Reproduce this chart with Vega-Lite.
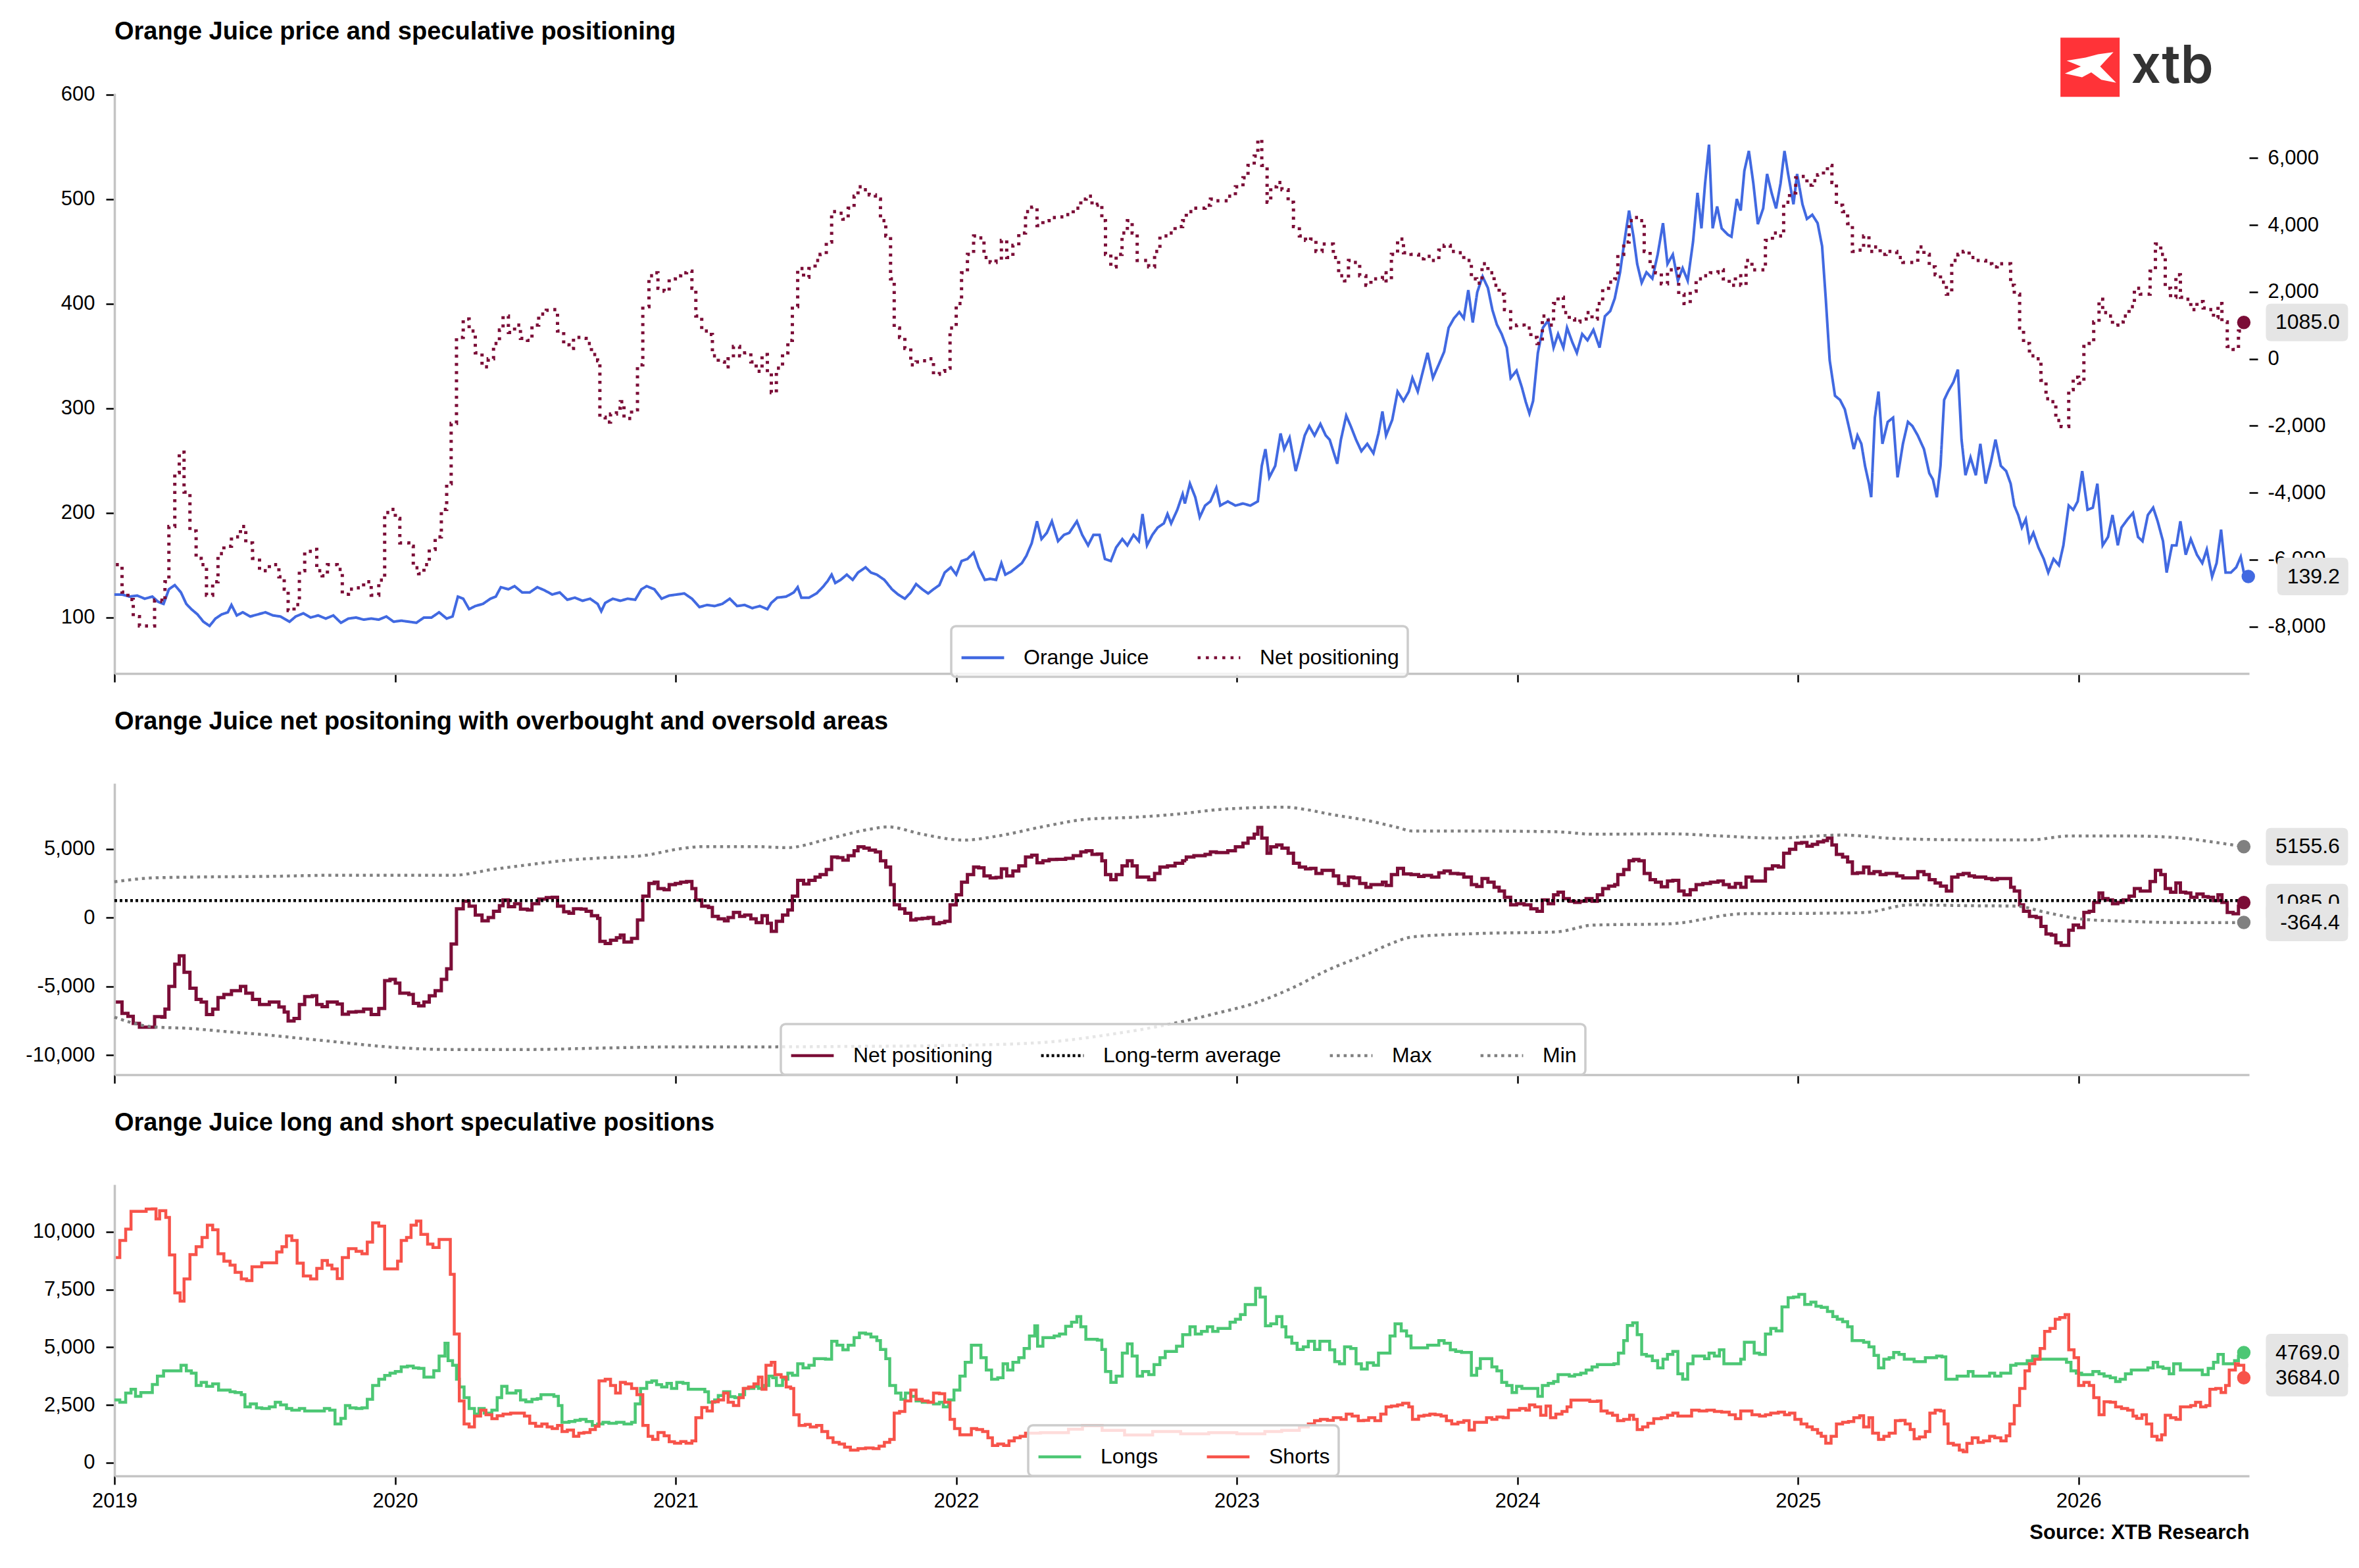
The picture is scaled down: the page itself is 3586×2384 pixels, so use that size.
{
  "$schema": "https://vega.github.io/schema/vega-lite/v6.json",
  "background": "white",
  "padding": {"left": 38, "top": 30, "right": 6, "bottom": 10},
  "config": {
    "font": "Liberation Sans",
    "view": {"stroke": null},
    "title": {"anchor": "start", "frame": "group", "fontSize": 38, "fontWeight": "bold", "color": "#000000", "baseline": "alphabetic", "offset": 74},
    "axis": {"grid": false, "labelFlush": false, "labelOverlap": false, "domainColor": "#c4c4c4", "domainWidth": 3.5, "tickColor": "#000000", "tickWidth": 2.5, "tickSize": 13, "labelFontSize": 31, "labelColor": "#000000", "labelFont": "Liberation Sans", "title": null},
    "legend": {"orient": "none", "direction": "horizontal", "symbolType": "stroke", "symbolSize": 4200, "symbolStrokeWidth": 4.5, "labelFontSize": 32, "labelFont": "Liberation Sans", "labelColor": "#000000", "labelOffset": 27, "columnPadding": 64, "padding": 13, "fillColor": "rgba(255,255,255,0.8)", "strokeColor": "#cccccc", "strokeWidth": 3.5, "cornerRadius": 7, "labelLimit": 0}
  },
  "datasets": {
    "price": [{"t":2019.000,"v":122},{"t":2019.027,"v":122},{"t":2019.054,"v":120},{"t":2019.081,"v":121},{"t":2019.108,"v":118},{"t":2019.135,"v":120},{"t":2019.156,"v":115},{"t":2019.175,"v":113},{"t":2019.194,"v":127},{"t":2019.215,"v":131},{"t":2019.237,"v":124},{"t":2019.256,"v":113},{"t":2019.274,"v":108},{"t":2019.296,"v":103},{"t":2019.317,"v":96},{"t":2019.339,"v":92},{"t":2019.360,"v":99},{"t":2019.382,"v":103},{"t":2019.404,"v":105},{"t":2019.417,"v":112},{"t":2019.436,"v":102},{"t":2019.457,"v":105},{"t":2019.484,"v":101},{"t":2019.511,"v":103},{"t":2019.538,"v":105},{"t":2019.565,"v":102},{"t":2019.592,"v":101},{"t":2019.624,"v":96},{"t":2019.646,"v":101},{"t":2019.673,"v":104},{"t":2019.699,"v":100},{"t":2019.726,"v":102},{"t":2019.753,"v":99},{"t":2019.780,"v":102},{"t":2019.807,"v":95},{"t":2019.834,"v":99},{"t":2019.861,"v":100},{"t":2019.888,"v":98},{"t":2019.915,"v":99},{"t":2019.942,"v":98},{"t":2019.969,"v":101},{"t":2019.995,"v":96},{"t":2020.022,"v":97},{"t":2020.049,"v":96},{"t":2020.076,"v":95},{"t":2020.103,"v":100},{"t":2020.130,"v":100},{"t":2020.157,"v":105},{"t":2020.184,"v":99},{"t":2020.205,"v":101},{"t":2020.224,"v":120},{"t":2020.243,"v":118},{"t":2020.264,"v":108},{"t":2020.286,"v":111},{"t":2020.313,"v":113},{"t":2020.340,"v":118},{"t":2020.359,"v":120},{"t":2020.377,"v":129},{"t":2020.404,"v":127},{"t":2020.426,"v":130},{"t":2020.453,"v":124},{"t":2020.480,"v":124},{"t":2020.507,"v":129},{"t":2020.533,"v":126},{"t":2020.560,"v":122},{"t":2020.587,"v":124},{"t":2020.614,"v":117},{"t":2020.641,"v":119},{"t":2020.668,"v":116},{"t":2020.695,"v":118},{"t":2020.722,"v":113},{"t":2020.735,"v":106},{"t":2020.749,"v":114},{"t":2020.776,"v":118},{"t":2020.803,"v":116},{"t":2020.829,"v":118},{"t":2020.856,"v":117},{"t":2020.878,"v":127},{"t":2020.897,"v":130},{"t":2020.924,"v":127},{"t":2020.950,"v":118},{"t":2020.977,"v":121},{"t":2021.004,"v":122},{"t":2021.031,"v":123},{"t":2021.058,"v":118},{"t":2021.085,"v":110},{"t":2021.112,"v":112},{"t":2021.139,"v":111},{"t":2021.166,"v":113},{"t":2021.193,"v":118},{"t":2021.219,"v":111},{"t":2021.246,"v":112},{"t":2021.273,"v":109},{"t":2021.300,"v":111},{"t":2021.327,"v":108},{"t":2021.341,"v":114},{"t":2021.362,"v":119},{"t":2021.394,"v":120},{"t":2021.421,"v":124},{"t":2021.435,"v":129},{"t":2021.448,"v":119},{"t":2021.475,"v":119},{"t":2021.502,"v":123},{"t":2021.524,"v":129},{"t":2021.542,"v":135},{"t":2021.556,"v":141},{"t":2021.569,"v":133},{"t":2021.588,"v":136},{"t":2021.610,"v":141},{"t":2021.631,"v":136},{"t":2021.650,"v":143},{"t":2021.677,"v":148},{"t":2021.696,"v":143},{"t":2021.717,"v":141},{"t":2021.744,"v":136},{"t":2021.771,"v":127},{"t":2021.793,"v":122},{"t":2021.817,"v":118},{"t":2021.838,"v":124},{"t":2021.857,"v":132},{"t":2021.879,"v":127},{"t":2021.900,"v":123},{"t":2021.919,"v":127},{"t":2021.940,"v":131},{"t":2021.959,"v":143},{"t":2021.981,"v":148},{"t":2022.000,"v":141},{"t":2022.019,"v":154},{"t":2022.040,"v":156},{"t":2022.062,"v":162},{"t":2022.080,"v":148},{"t":2022.102,"v":136},{"t":2022.121,"v":137},{"t":2022.142,"v":136},{"t":2022.161,"v":152},{"t":2022.175,"v":141},{"t":2022.196,"v":144},{"t":2022.215,"v":148},{"t":2022.234,"v":152},{"t":2022.250,"v":159},{"t":2022.269,"v":171},{"t":2022.288,"v":192},{"t":2022.304,"v":175},{"t":2022.323,"v":181},{"t":2022.341,"v":192},{"t":2022.363,"v":173},{"t":2022.384,"v":179},{"t":2022.403,"v":181},{"t":2022.430,"v":192},{"t":2022.449,"v":179},{"t":2022.470,"v":169},{"t":2022.489,"v":179},{"t":2022.511,"v":179},{"t":2022.530,"v":156},{"t":2022.551,"v":154},{"t":2022.570,"v":167},{"t":2022.592,"v":175},{"t":2022.610,"v":169},{"t":2022.632,"v":179},{"t":2022.651,"v":173},{"t":2022.664,"v":199},{"t":2022.680,"v":169},{"t":2022.699,"v":179},{"t":2022.718,"v":186},{"t":2022.740,"v":190},{"t":2022.753,"v":199},{"t":2022.766,"v":190},{"t":2022.788,"v":203},{"t":2022.807,"v":218},{"t":2022.815,"v":209},{"t":2022.833,"v":228},{"t":2022.852,"v":215},{"t":2022.868,"v":196},{"t":2022.887,"v":207},{"t":2022.906,"v":211},{"t":2022.927,"v":224},{"t":2022.941,"v":207},{"t":2022.968,"v":211},{"t":2022.995,"v":207},{"t":2023.022,"v":209},{"t":2023.048,"v":207},{"t":2023.075,"v":211},{"t":2023.089,"v":245},{"t":2023.102,"v":261},{"t":2023.116,"v":234},{"t":2023.137,"v":245},{"t":2023.156,"v":276},{"t":2023.169,"v":261},{"t":2023.188,"v":272},{"t":2023.210,"v":240},{"t":2023.223,"v":253},{"t":2023.242,"v":274},{"t":2023.258,"v":283},{"t":2023.277,"v":274},{"t":2023.298,"v":285},{"t":2023.317,"v":274},{"t":2023.331,"v":270},{"t":2023.358,"v":247},{"t":2023.371,"v":270},{"t":2023.390,"v":293},{"t":2023.406,"v":283},{"t":2023.425,"v":270},{"t":2023.444,"v":259},{"t":2023.465,"v":266},{"t":2023.487,"v":257},{"t":2023.505,"v":276},{"t":2023.519,"v":297},{"t":2023.532,"v":274},{"t":2023.554,"v":289},{"t":2023.573,"v":316},{"t":2023.594,"v":307},{"t":2023.613,"v":316},{"t":2023.626,"v":329},{"t":2023.645,"v":316},{"t":2023.661,"v":333},{"t":2023.680,"v":353},{"t":2023.699,"v":329},{"t":2023.720,"v":342},{"t":2023.739,"v":354},{"t":2023.755,"v":377},{"t":2023.774,"v":386},{"t":2023.793,"v":392},{"t":2023.809,"v":386},{"t":2023.825,"v":413},{"t":2023.841,"v":382},{"t":2023.857,"v":411},{"t":2023.876,"v":426},{"t":2023.895,"v":415},{"t":2023.911,"v":394},{"t":2023.927,"v":380},{"t":2023.944,"v":371},{"t":2023.962,"v":358},{"t":2023.976,"v":329},{"t":2023.997,"v":336},{"t":2024.016,"v":320},{"t":2024.030,"v":306},{"t":2024.043,"v":295},{"t":2024.056,"v":307},{"t":2024.073,"v":353},{"t":2024.091,"v":377},{"t":2024.110,"v":384},{"t":2024.129,"v":358},{"t":2024.145,"v":371},{"t":2024.164,"v":358},{"t":2024.177,"v":377},{"t":2024.196,"v":363},{"t":2024.212,"v":353},{"t":2024.231,"v":371},{"t":2024.250,"v":365},{"t":2024.271,"v":375},{"t":2024.293,"v":358},{"t":2024.312,"v":388},{"t":2024.331,"v":393},{"t":2024.347,"v":405},{"t":2024.366,"v":430},{"t":2024.379,"v":455},{"t":2024.398,"v":489},{"t":2024.414,"v":464},{"t":2024.427,"v":438},{"t":2024.443,"v":420},{"t":2024.460,"v":430},{"t":2024.481,"v":424},{"t":2024.500,"v":447},{"t":2024.519,"v":477},{"t":2024.535,"v":438},{"t":2024.554,"v":447},{"t":2024.572,"v":422},{"t":2024.589,"v":434},{"t":2024.607,"v":422},{"t":2024.626,"v":459},{"t":2024.642,"v":506},{"t":2024.656,"v":472},{"t":2024.669,"v":515},{"t":2024.683,"v":552},{"t":2024.696,"v":472},{"t":2024.712,"v":493},{"t":2024.728,"v":472},{"t":2024.750,"v":466},{"t":2024.763,"v":464},{"t":2024.782,"v":500},{"t":2024.796,"v":489},{"t":2024.809,"v":527},{"t":2024.825,"v":546},{"t":2024.841,"v":515},{"t":2024.857,"v":476},{"t":2024.876,"v":491},{"t":2024.890,"v":524},{"t":2024.906,"v":506},{"t":2024.922,"v":491},{"t":2024.938,"v":515},{"t":2024.952,"v":546},{"t":2024.965,"v":524},{"t":2024.984,"v":495},{"t":2024.997,"v":524},{"t":2025.016,"v":495},{"t":2025.032,"v":481},{"t":2025.051,"v":485},{"t":2025.070,"v":477},{"t":2025.086,"v":455},{"t":2025.099,"v":405},{"t":2025.113,"v":346},{"t":2025.132,"v":312},{"t":2025.150,"v":308},{"t":2025.167,"v":299},{"t":2025.185,"v":278},{"t":2025.199,"v":261},{"t":2025.212,"v":274},{"t":2025.226,"v":266},{"t":2025.239,"v":245},{"t":2025.253,"v":228},{"t":2025.261,"v":215},{"t":2025.274,"v":291},{"t":2025.287,"v":316},{"t":2025.301,"v":266},{"t":2025.320,"v":287},{"t":2025.339,"v":291},{"t":2025.355,"v":234},{"t":2025.374,"v":266},{"t":2025.392,"v":287},{"t":2025.408,"v":283},{"t":2025.427,"v":274},{"t":2025.449,"v":261},{"t":2025.468,"v":238},{"t":2025.481,"v":232},{"t":2025.495,"v":215},{"t":2025.508,"v":245},{"t":2025.521,"v":308},{"t":2025.535,"v":316},{"t":2025.554,"v":325},{"t":2025.570,"v":337},{"t":2025.583,"v":270},{"t":2025.597,"v":236},{"t":2025.615,"v":253},{"t":2025.634,"v":236},{"t":2025.650,"v":266},{"t":2025.669,"v":228},{"t":2025.688,"v":249},{"t":2025.704,"v":270},{"t":2025.723,"v":245},{"t":2025.742,"v":240},{"t":2025.758,"v":228},{"t":2025.771,"v":207},{"t":2025.785,"v":198},{"t":2025.798,"v":186},{"t":2025.812,"v":194},{"t":2025.825,"v":173},{"t":2025.839,"v":181},{"t":2025.857,"v":167},{"t":2025.876,"v":156},{"t":2025.892,"v":143},{"t":2025.911,"v":156},{"t":2025.930,"v":150},{"t":2025.946,"v":169},{"t":2025.965,"v":207},{"t":2025.981,"v":203},{"t":2025.997,"v":211},{"t":2026.013,"v":240},{"t":2026.032,"v":203},{"t":2026.051,"v":205},{"t":2026.067,"v":228},{"t":2026.086,"v":169},{"t":2026.105,"v":177},{"t":2026.121,"v":198},{"t":2026.140,"v":169},{"t":2026.153,"v":186},{"t":2026.175,"v":194},{"t":2026.194,"v":200},{"t":2026.212,"v":177},{"t":2026.228,"v":173},{"t":2026.247,"v":198},{"t":2026.266,"v":205},{"t":2026.282,"v":192},{"t":2026.301,"v":173},{"t":2026.314,"v":143},{"t":2026.333,"v":169},{"t":2026.349,"v":169},{"t":2026.363,"v":192},{"t":2026.382,"v":160},{"t":2026.400,"v":175},{"t":2026.422,"v":160},{"t":2026.441,"v":152},{"t":2026.457,"v":165},{"t":2026.476,"v":139},{"t":2026.492,"v":152},{"t":2026.508,"v":184},{"t":2026.524,"v":143},{"t":2026.543,"v":143},{"t":2026.562,"v":148},{"t":2026.578,"v":158},{"t":2026.589,"v":143},{"t":2026.605,"v":139.2}],
    "net": [{"t":2019.005,"v":-6150},{"t":2019.027,"v":-6970},{"t":2019.048,"v":-7190},{"t":2019.067,"v":-7700},{"t":2019.089,"v":-7980},{"t":2019.143,"v":-7210},{"t":2019.169,"v":-7250},{"t":2019.180,"v":-6660},{"t":2019.194,"v":-5010},{"t":2019.215,"v":-3400},{"t":2019.231,"v":-2790},{"t":2019.248,"v":-3980},{"t":2019.269,"v":-5140},{"t":2019.291,"v":-5960},{"t":2019.309,"v":-6150},{"t":2019.328,"v":-7060},{"t":2019.350,"v":-6660},{"t":2019.369,"v":-5820},{"t":2019.390,"v":-5600},{"t":2019.417,"v":-5320},{"t":2019.449,"v":-5010},{"t":2019.468,"v":-5500},{"t":2019.492,"v":-5960},{"t":2019.517,"v":-6330},{"t":2019.552,"v":-6150},{"t":2019.586,"v":-6510},{"t":2019.605,"v":-6880},{"t":2019.619,"v":-7520},{"t":2019.640,"v":-7340},{"t":2019.659,"v":-6330},{"t":2019.678,"v":-5750},{"t":2019.705,"v":-5690},{"t":2019.721,"v":-6330},{"t":2019.740,"v":-6480},{"t":2019.759,"v":-6150},{"t":2019.794,"v":-6290},{"t":2019.812,"v":-7030},{"t":2019.834,"v":-6880},{"t":2019.861,"v":-6840},{"t":2019.888,"v":-6660},{"t":2019.915,"v":-7060},{"t":2019.942,"v":-6610},{"t":2019.963,"v":-4590},{"t":2019.982,"v":-4500},{"t":2020.001,"v":-4770},{"t":2020.017,"v":-5500},{"t":2020.049,"v":-5600},{"t":2020.065,"v":-6240},{"t":2020.084,"v":-6420},{"t":2020.103,"v":-6150},{"t":2020.122,"v":-5690},{"t":2020.143,"v":-5320},{"t":2020.165,"v":-4500},{"t":2020.184,"v":-3730},{"t":2020.200,"v":-1930},{"t":2020.219,"v":640},{"t":2020.243,"v":1190},{"t":2020.264,"v":830},{"t":2020.286,"v":180},{"t":2020.310,"v":-240},{"t":2020.332,"v":0},{"t":2020.351,"v":460},{"t":2020.372,"v":860},{"t":2020.385,"v":1280},{"t":2020.404,"v":790},{"t":2020.426,"v":1010},{"t":2020.447,"v":610},{"t":2020.472,"v":550},{"t":2020.488,"v":1010},{"t":2020.512,"v":1340},{"t":2020.539,"v":1450},{"t":2020.560,"v":1470},{"t":2020.579,"v":830},{"t":2020.601,"v":420},{"t":2020.620,"v":310},{"t":2020.636,"v":640},{"t":2020.663,"v":610},{"t":2020.681,"v":460},{"t":2020.700,"v":130},{"t":2020.722,"v":-55},{"t":2020.730,"v":-1740},{"t":2020.749,"v":-1890},{"t":2020.768,"v":-1650},{"t":2020.789,"v":-1470},{"t":2020.803,"v":-1280},{"t":2020.816,"v":-1780},{"t":2020.843,"v":-1520},{"t":2020.864,"v":-180},{"t":2020.883,"v":1560},{"t":2020.905,"v":2480},{"t":2020.924,"v":2570},{"t":2020.937,"v":2110},{"t":2020.959,"v":2020},{"t":2020.977,"v":2390},{"t":2020.999,"v":2480},{"t":2021.018,"v":2570},{"t":2021.039,"v":2620},{"t":2021.058,"v":2110},{"t":2021.072,"v":1280},{"t":2021.093,"v":830},{"t":2021.117,"v":730},{"t":2021.131,"v":90},{"t":2021.152,"v":-90},{"t":2021.174,"v":-240},{"t":2021.187,"v":0},{"t":2021.206,"v":370},{"t":2021.228,"v":90},{"t":2021.246,"v":180},{"t":2021.268,"v":-90},{"t":2021.287,"v":-370},{"t":2021.308,"v":130},{"t":2021.327,"v":-420},{"t":2021.341,"v":-1010},{"t":2021.359,"v":-280},{"t":2021.381,"v":180},{"t":2021.400,"v":550},{"t":2021.416,"v":1560},{"t":2021.435,"v":2700},{"t":2021.456,"v":2440},{"t":2021.475,"v":2700},{"t":2021.497,"v":2940},{"t":2021.515,"v":3120},{"t":2021.537,"v":3490},{"t":2021.556,"v":4400},{"t":2021.577,"v":4350},{"t":2021.596,"v":4170},{"t":2021.615,"v":4500},{"t":2021.636,"v":4860},{"t":2021.650,"v":5140},{"t":2021.671,"v":5050},{"t":2021.690,"v":4900},{"t":2021.712,"v":4770},{"t":2021.730,"v":4130},{"t":2021.749,"v":3670},{"t":2021.766,"v":2390},{"t":2021.779,"v":920},{"t":2021.798,"v":640},{"t":2021.817,"v":310},{"t":2021.838,"v":-180},{"t":2021.857,"v":-90},{"t":2021.879,"v":-55},{"t":2021.900,"v":0},{"t":2021.919,"v":-460},{"t":2021.940,"v":-370},{"t":2021.959,"v":-280},{"t":2021.978,"v":920},{"t":2022.000,"v":1650},{"t":2022.019,"v":2570},{"t":2022.040,"v":3120},{"t":2022.062,"v":3670},{"t":2022.080,"v":3610},{"t":2022.099,"v":3030},{"t":2022.121,"v":2880},{"t":2022.142,"v":2920},{"t":2022.161,"v":3540},{"t":2022.180,"v":3030},{"t":2022.202,"v":3390},{"t":2022.223,"v":3760},{"t":2022.247,"v":4400},{"t":2022.269,"v":4530},{"t":2022.288,"v":3980},{"t":2022.309,"v":4130},{"t":2022.331,"v":4220},{"t":2022.358,"v":4240},{"t":2022.390,"v":4310},{"t":2022.417,"v":4500},{"t":2022.444,"v":4770},{"t":2022.463,"v":4860},{"t":2022.484,"v":4590},{"t":2022.503,"v":4620},{"t":2022.519,"v":4130},{"t":2022.532,"v":3120},{"t":2022.551,"v":2750},{"t":2022.570,"v":3120},{"t":2022.591,"v":3760},{"t":2022.610,"v":4130},{"t":2022.627,"v":3760},{"t":2022.645,"v":2940},{"t":2022.686,"v":2750},{"t":2022.707,"v":3210},{"t":2022.726,"v":3670},{"t":2022.753,"v":3760},{"t":2022.780,"v":3950},{"t":2022.807,"v":4130},{"t":2022.820,"v":4400},{"t":2022.847,"v":4500},{"t":2022.887,"v":4590},{"t":2022.906,"v":4770},{"t":2022.927,"v":4720},{"t":2022.968,"v":4860},{"t":2022.995,"v":5140},{"t":2023.022,"v":5410},{"t":2023.040,"v":5780},{"t":2023.062,"v":6060},{"t":2023.075,"v":6550},{"t":2023.089,"v":5780},{"t":2023.108,"v":4680},{"t":2023.121,"v":5140},{"t":2023.142,"v":5270},{"t":2023.161,"v":5050},{"t":2023.183,"v":4680},{"t":2023.202,"v":3950},{"t":2023.223,"v":3670},{"t":2023.245,"v":3540},{"t":2023.263,"v":3580},{"t":2023.282,"v":3210},{"t":2023.304,"v":3430},{"t":2023.344,"v":3030},{"t":2023.363,"v":2480},{"t":2023.384,"v":2330},{"t":2023.398,"v":2940},{"t":2023.417,"v":2880},{"t":2023.438,"v":2480},{"t":2023.460,"v":2200},{"t":2023.478,"v":2390},{"t":2023.519,"v":2570},{"t":2023.532,"v":2330},{"t":2023.551,"v":3120},{"t":2023.573,"v":3580},{"t":2023.594,"v":3170},{"t":2023.621,"v":3120},{"t":2023.648,"v":2990},{"t":2023.667,"v":3060},{"t":2023.694,"v":2940},{"t":2023.720,"v":3250},{"t":2023.739,"v":3390},{"t":2023.761,"v":3210},{"t":2023.788,"v":3170},{"t":2023.809,"v":2940},{"t":2023.836,"v":2390},{"t":2023.855,"v":2260},{"t":2023.874,"v":2840},{"t":2023.895,"v":2570},{"t":2023.917,"v":2200},{"t":2023.935,"v":1930},{"t":2023.954,"v":1470},{"t":2023.976,"v":920},{"t":2023.997,"v":1010},{"t":2024.024,"v":920},{"t":2024.048,"v":640},{"t":2024.070,"v":460},{"t":2024.089,"v":1280},{"t":2024.110,"v":1010},{"t":2024.129,"v":1650},{"t":2024.145,"v":1840},{"t":2024.164,"v":1380},{"t":2024.185,"v":1190},{"t":2024.204,"v":1100},{"t":2024.223,"v":1190},{"t":2024.245,"v":1380},{"t":2024.266,"v":1190},{"t":2024.285,"v":1650},{"t":2024.304,"v":2110},{"t":2024.325,"v":2290},{"t":2024.347,"v":2390},{"t":2024.358,"v":3120},{"t":2024.379,"v":3490},{"t":2024.398,"v":4130},{"t":2024.414,"v":4220},{"t":2024.433,"v":4130},{"t":2024.452,"v":3210},{"t":2024.473,"v":2750},{"t":2024.492,"v":2570},{"t":2024.513,"v":2240},{"t":2024.535,"v":2660},{"t":2024.554,"v":2700},{"t":2024.575,"v":1930},{"t":2024.594,"v":1650},{"t":2024.616,"v":2020},{"t":2024.637,"v":2390},{"t":2024.661,"v":2480},{"t":2024.688,"v":2570},{"t":2024.715,"v":2660},{"t":2024.734,"v":2390},{"t":2024.755,"v":2200},{"t":2024.777,"v":2480},{"t":2024.796,"v":2200},{"t":2024.815,"v":2940},{"t":2024.836,"v":2660},{"t":2024.884,"v":3540},{"t":2024.909,"v":3760},{"t":2024.930,"v":3670},{"t":2024.949,"v":4680},{"t":2024.970,"v":4960},{"t":2024.992,"v":5410},{"t":2025.013,"v":5450},{"t":2025.032,"v":5190},{"t":2025.051,"v":5320},{"t":2025.070,"v":5500},{"t":2025.091,"v":5600},{"t":2025.105,"v":5780},{"t":2025.121,"v":5270},{"t":2025.137,"v":4590},{"t":2025.159,"v":4400},{"t":2025.177,"v":4040},{"t":2025.194,"v":3210},{"t":2025.212,"v":3250},{"t":2025.234,"v":3670},{"t":2025.253,"v":3210},{"t":2025.271,"v":3340},{"t":2025.293,"v":3120},{"t":2025.314,"v":3210},{"t":2025.352,"v":3030},{"t":2025.374,"v":2880},{"t":2025.427,"v":3340},{"t":2025.449,"v":3120},{"t":2025.468,"v":2750},{"t":2025.489,"v":2510},{"t":2025.508,"v":2290},{"t":2025.529,"v":1930},{"t":2025.548,"v":2940},{"t":2025.570,"v":3120},{"t":2025.589,"v":3210},{"t":2025.610,"v":3030},{"t":2025.629,"v":2940},{"t":2025.669,"v":2840},{"t":2025.691,"v":2750},{"t":2025.710,"v":2840},{"t":2025.758,"v":2200},{"t":2025.771,"v":1930},{"t":2025.790,"v":920},{"t":2025.804,"v":460},{"t":2025.825,"v":90},{"t":2025.849,"v":0},{"t":2025.866,"v":-640},{"t":2025.884,"v":-1190},{"t":2025.903,"v":-1280},{"t":2025.919,"v":-1840},{"t":2025.938,"v":-2020},{"t":2025.965,"v":-920},{"t":2025.981,"v":-550},{"t":2026.000,"v":-730},{"t":2026.019,"v":370},{"t":2026.038,"v":460},{"t":2026.054,"v":1100},{"t":2026.073,"v":1780},{"t":2026.086,"v":1380},{"t":2026.105,"v":1280},{"t":2026.121,"v":1010},{"t":2026.140,"v":1100},{"t":2026.159,"v":1280},{"t":2026.180,"v":1560},{"t":2026.199,"v":2110},{"t":2026.220,"v":1930},{"t":2026.255,"v":2620},{"t":2026.274,"v":3430},{"t":2026.293,"v":3120},{"t":2026.309,"v":2110},{"t":2026.328,"v":1840},{"t":2026.347,"v":2510},{"t":2026.363,"v":1840},{"t":2026.382,"v":1780},{"t":2026.400,"v":1470},{"t":2026.422,"v":1710},{"t":2026.444,"v":1520},{"t":2026.462,"v":1470},{"t":2026.481,"v":1230},{"t":2026.497,"v":1650},{"t":2026.511,"v":1100},{"t":2026.530,"v":370},{"t":2026.551,"v":280},{"t":2026.570,"v":830},{"t":2026.589,"v":1085.0}],
    "avg": [{"t":2019.0,"v":1230},{"t":2026.589,"v":1230}],
    "max": [{"t":2019.000,"v":2600},{"t":2019.135,"v":2880},{"t":2019.269,"v":2940},{"t":2019.538,"v":2990},{"t":2019.807,"v":3080},{"t":2020.211,"v":3080},{"t":2020.345,"v":3490},{"t":2020.480,"v":3850},{"t":2020.614,"v":4170},{"t":2020.749,"v":4350},{"t":2020.883,"v":4500},{"t":2021.018,"v":5010},{"t":2021.098,"v":5160},{"t":2021.287,"v":5160},{"t":2021.394,"v":5080},{"t":2021.556,"v":5780},{"t":2021.690,"v":6420},{"t":2021.758,"v":6590},{"t":2021.879,"v":6060},{"t":2022.027,"v":5630},{"t":2022.148,"v":5930},{"t":2022.309,"v":6610},{"t":2022.470,"v":7160},{"t":2022.632,"v":7290},{"t":2022.807,"v":7560},{"t":2022.927,"v":7840},{"t":2023.062,"v":7990},{"t":2023.169,"v":8030},{"t":2023.250,"v":7840},{"t":2023.331,"v":7520},{"t":2023.465,"v":7060},{"t":2023.573,"v":6550},{"t":2023.626,"v":6290},{"t":2023.868,"v":6290},{"t":2024.137,"v":6240},{"t":2024.271,"v":6060},{"t":2024.540,"v":6090},{"t":2024.728,"v":5930},{"t":2024.917,"v":5780},{"t":2025.159,"v":6000},{"t":2025.347,"v":5740},{"t":2025.616,"v":5650},{"t":2025.831,"v":5650},{"t":2025.965,"v":5930},{"t":2026.180,"v":5930},{"t":2026.368,"v":5780},{"t":2026.476,"v":5500},{"t":2026.589,"v":5155.6}],
    "min": [{"t":2019.000,"v":-7250},{"t":2019.135,"v":-7950},{"t":2019.269,"v":-8070},{"t":2019.404,"v":-8310},{"t":2019.538,"v":-8530},{"t":2019.673,"v":-8810},{"t":2019.807,"v":-9080},{"t":2019.942,"v":-9360},{"t":2020.076,"v":-9540},{"t":2020.211,"v":-9600},{"t":2020.480,"v":-9600},{"t":2020.749,"v":-9490},{"t":2021.018,"v":-9410},{"t":2021.287,"v":-9410},{"t":2021.600,"v":-9380},{"t":2022.000,"v":-9300},{"t":2022.300,"v":-9100},{"t":2022.550,"v":-8500},{"t":2022.793,"v":-7620},{"t":2022.927,"v":-6970},{"t":2023.062,"v":-6240},{"t":2023.196,"v":-5140},{"t":2023.331,"v":-3760},{"t":2023.465,"v":-2660},{"t":2023.546,"v":-1930},{"t":2023.626,"v":-1410},{"t":2023.868,"v":-1160},{"t":2024.137,"v":-1050},{"t":2024.271,"v":-550},{"t":2024.540,"v":-460},{"t":2024.809,"v":280},{"t":2025.078,"v":310},{"t":2025.239,"v":370},{"t":2025.400,"v":920},{"t":2025.616,"v":860},{"t":2025.777,"v":830},{"t":2025.884,"v":370},{"t":2026.019,"v":-130},{"t":2026.180,"v":-280},{"t":2026.368,"v":-370},{"t":2026.589,"v":-364.4}],
    "longs": [{"t":2019.000,"v":2720},{"t":2019.019,"v":2620},{"t":2019.040,"v":3020},{"t":2019.059,"v":3180},{"t":2019.075,"v":2880},{"t":2019.094,"v":3040},{"t":2019.135,"v":3390},{"t":2019.153,"v":3750},{"t":2019.175,"v":3980},{"t":2019.237,"v":4220},{"t":2019.256,"v":3980},{"t":2019.274,"v":3880},{"t":2019.291,"v":3350},{"t":2019.309,"v":3480},{"t":2019.328,"v":3310},{"t":2019.350,"v":3420},{"t":2019.371,"v":3150},{"t":2019.412,"v":3080},{"t":2019.430,"v":3040},{"t":2019.452,"v":2950},{"t":2019.465,"v":2420},{"t":2019.484,"v":2550},{"t":2019.506,"v":2380},{"t":2019.525,"v":2350},{"t":2019.552,"v":2420},{"t":2019.573,"v":2620},{"t":2019.592,"v":2510},{"t":2019.613,"v":2350},{"t":2019.632,"v":2280},{"t":2019.659,"v":2350},{"t":2019.678,"v":2240},{"t":2019.748,"v":2350},{"t":2019.767,"v":2280},{"t":2019.786,"v":1680},{"t":2019.807,"v":1920},{"t":2019.823,"v":2480},{"t":2019.839,"v":2380},{"t":2019.861,"v":2350},{"t":2019.882,"v":2380},{"t":2019.901,"v":2750},{"t":2019.920,"v":3350},{"t":2019.942,"v":3620},{"t":2019.963,"v":3780},{"t":2019.982,"v":3880},{"t":2020.001,"v":3950},{"t":2020.022,"v":4150},{"t":2020.044,"v":4190},{"t":2020.065,"v":4110},{"t":2020.084,"v":4090},{"t":2020.103,"v":3710},{"t":2020.138,"v":3990},{"t":2020.157,"v":4620},{"t":2020.178,"v":5180},{"t":2020.189,"v":4420},{"t":2020.205,"v":4220},{"t":2020.219,"v":3620},{"t":2020.229,"v":3280},{"t":2020.246,"v":2820},{"t":2020.264,"v":2350},{"t":2020.283,"v":2110},{"t":2020.299,"v":2350},{"t":2020.318,"v":2150},{"t":2020.345,"v":2280},{"t":2020.364,"v":2820},{"t":2020.380,"v":3310},{"t":2020.399,"v":3020},{"t":2020.431,"v":3120},{"t":2020.447,"v":2720},{"t":2020.466,"v":2640},{"t":2020.488,"v":2750},{"t":2020.507,"v":2780},{"t":2020.520,"v":2950},{"t":2020.566,"v":2880},{"t":2020.582,"v":2480},{"t":2020.595,"v":1750},{"t":2020.620,"v":1790},{"t":2020.641,"v":1840},{"t":2020.660,"v":1880},{"t":2020.681,"v":1790},{"t":2020.703,"v":1620},{"t":2020.722,"v":1680},{"t":2020.741,"v":1750},{"t":2020.762,"v":1710},{"t":2020.789,"v":1750},{"t":2020.816,"v":1680},{"t":2020.843,"v":1750},{"t":2020.856,"v":2550},{"t":2020.875,"v":3220},{"t":2020.897,"v":3480},{"t":2020.915,"v":3550},{"t":2020.932,"v":3380},{"t":2020.950,"v":3280},{"t":2020.969,"v":3440},{"t":2020.985,"v":3220},{"t":2021.004,"v":3480},{"t":2021.026,"v":3440},{"t":2021.045,"v":3180},{"t":2021.104,"v":3080},{"t":2021.117,"v":2620},{"t":2021.139,"v":2720},{"t":2021.152,"v":2910},{"t":2021.171,"v":3080},{"t":2021.193,"v":2860},{"t":2021.211,"v":2820},{"t":2021.228,"v":2950},{"t":2021.246,"v":3220},{"t":2021.279,"v":3310},{"t":2021.295,"v":3220},{"t":2021.314,"v":3350},{"t":2021.332,"v":3750},{"t":2021.346,"v":3680},{"t":2021.359,"v":3350},{"t":2021.381,"v":3620},{"t":2021.400,"v":3880},{"t":2021.416,"v":3790},{"t":2021.435,"v":4290},{"t":2021.454,"v":4110},{"t":2021.475,"v":4220},{"t":2021.494,"v":4510},{"t":2021.534,"v":4490},{"t":2021.556,"v":5260},{"t":2021.575,"v":5090},{"t":2021.596,"v":4890},{"t":2021.615,"v":5090},{"t":2021.636,"v":5420},{"t":2021.655,"v":5620},{"t":2021.677,"v":5580},{"t":2021.696,"v":5450},{"t":2021.717,"v":5290},{"t":2021.730,"v":4910},{"t":2021.749,"v":4510},{"t":2021.763,"v":3350},{"t":2021.784,"v":3020},{"t":2021.803,"v":2750},{"t":2021.819,"v":3020},{"t":2021.838,"v":2880},{"t":2021.857,"v":2680},{"t":2021.879,"v":2620},{"t":2021.919,"v":2550},{"t":2021.940,"v":2620},{"t":2021.954,"v":2420},{"t":2021.973,"v":2720},{"t":2021.992,"v":3150},{"t":2022.013,"v":3750},{"t":2022.032,"v":4350},{"t":2022.054,"v":5090},{"t":2022.088,"v":4550},{"t":2022.107,"v":4020},{"t":2022.126,"v":3620},{"t":2022.148,"v":3680},{"t":2022.167,"v":4290},{"t":2022.183,"v":4020},{"t":2022.202,"v":4350},{"t":2022.223,"v":4550},{"t":2022.242,"v":4950},{"t":2022.261,"v":5490},{"t":2022.280,"v":5930},{"t":2022.290,"v":5050},{"t":2022.309,"v":5420},{"t":2022.349,"v":5490},{"t":2022.368,"v":5580},{"t":2022.390,"v":5910},{"t":2022.411,"v":6090},{"t":2022.430,"v":6330},{"t":2022.444,"v":5890},{"t":2022.462,"v":5350},{"t":2022.503,"v":5310},{"t":2022.519,"v":4910},{"t":2022.532,"v":3950},{"t":2022.551,"v":3480},{"t":2022.570,"v":3750},{"t":2022.592,"v":4750},{"t":2022.610,"v":5150},{"t":2022.627,"v":4620},{"t":2022.645,"v":3750},{"t":2022.664,"v":3950},{"t":2022.686,"v":3820},{"t":2022.705,"v":4250},{"t":2022.726,"v":4550},{"t":2022.745,"v":4820},{"t":2022.785,"v":5050},{"t":2022.807,"v":5550},{"t":2022.833,"v":5890},{"t":2022.852,"v":5580},{"t":2022.874,"v":5690},{"t":2022.895,"v":5890},{"t":2022.914,"v":5690},{"t":2022.933,"v":5820},{"t":2022.976,"v":6090},{"t":2022.995,"v":6220},{"t":2023.013,"v":6420},{"t":2023.030,"v":6850},{"t":2023.067,"v":7560},{"t":2023.083,"v":7180},{"t":2023.102,"v":5930},{"t":2023.121,"v":6020},{"t":2023.142,"v":6330},{"t":2023.161,"v":5890},{"t":2023.175,"v":5450},{"t":2023.196,"v":5180},{"t":2023.215,"v":4910},{"t":2023.237,"v":5020},{"t":2023.255,"v":5260},{"t":2023.277,"v":4910},{"t":2023.296,"v":5260},{"t":2023.331,"v":4890},{"t":2023.349,"v":4380},{"t":2023.366,"v":4290},{"t":2023.384,"v":5020},{"t":2023.406,"v":4950},{"t":2023.425,"v":4290},{"t":2023.444,"v":4060},{"t":2023.465,"v":4330},{"t":2023.487,"v":4220},{"t":2023.505,"v":4750},{"t":2023.546,"v":5490},{"t":2023.564,"v":6020},{"t":2023.586,"v":5710},{"t":2023.605,"v":5490},{"t":2023.621,"v":4980},{"t":2023.680,"v":5090},{"t":2023.720,"v":5290},{"t":2023.739,"v":5180},{"t":2023.761,"v":4890},{"t":2023.780,"v":4820},{"t":2023.801,"v":4780},{"t":2023.836,"v":3790},{"t":2023.855,"v":4090},{"t":2023.868,"v":4510},{"t":2023.909,"v":4150},{"t":2023.927,"v":3980},{"t":2023.944,"v":3480},{"t":2023.962,"v":3350},{"t":2023.981,"v":3040},{"t":2023.997,"v":3310},{"t":2024.016,"v":3220},{"t":2024.073,"v":2880},{"t":2024.089,"v":3350},{"t":2024.110,"v":3440},{"t":2024.129,"v":3520},{"t":2024.145,"v":3820},{"t":2024.185,"v":3750},{"t":2024.204,"v":3820},{"t":2024.226,"v":3880},{"t":2024.245,"v":4020},{"t":2024.266,"v":4150},{"t":2024.285,"v":4250},{"t":2024.344,"v":4290},{"t":2024.360,"v":4750},{"t":2024.379,"v":5290},{"t":2024.392,"v":5950},{"t":2024.411,"v":6060},{"t":2024.427,"v":5550},{"t":2024.443,"v":4690},{"t":2024.460,"v":4620},{"t":2024.481,"v":4420},{"t":2024.500,"v":4110},{"t":2024.519,"v":4490},{"t":2024.535,"v":4690},{"t":2024.554,"v":4820},{"t":2024.572,"v":3850},{"t":2024.589,"v":3620},{"t":2024.607,"v":4290},{"t":2024.626,"v":4620},{"t":2024.667,"v":4510},{"t":2024.683,"v":4750},{"t":2024.702,"v":4620},{"t":2024.720,"v":4890},{"t":2024.736,"v":4290},{"t":2024.796,"v":4490},{"t":2024.809,"v":5220},{"t":2024.844,"v":4750},{"t":2024.863,"v":4690},{"t":2024.884,"v":5580},{"t":2024.903,"v":5820},{"t":2024.922,"v":5710},{"t":2024.943,"v":6750},{"t":2024.965,"v":7150},{"t":2024.984,"v":7180},{"t":2025.003,"v":7290},{"t":2025.024,"v":6860},{"t":2025.046,"v":6960},{"t":2025.064,"v":6780},{"t":2025.083,"v":6730},{"t":2025.105,"v":6550},{"t":2025.124,"v":6330},{"t":2025.140,"v":6220},{"t":2025.159,"v":6110},{"t":2025.177,"v":5890},{"t":2025.193,"v":5290},{"t":2025.234,"v":5220},{"t":2025.253,"v":5020},{"t":2025.271,"v":4650},{"t":2025.287,"v":4110},{"t":2025.306,"v":4490},{"t":2025.325,"v":4550},{"t":2025.341,"v":4780},{"t":2025.360,"v":4690},{"t":2025.379,"v":4490},{"t":2025.414,"v":4380},{"t":2025.454,"v":4550},{"t":2025.494,"v":4620},{"t":2025.513,"v":4590},{"t":2025.527,"v":3620},{"t":2025.567,"v":3750},{"t":2025.607,"v":3950},{"t":2025.624,"v":3750},{"t":2025.661,"v":3750},{"t":2025.683,"v":3880},{"t":2025.701,"v":3750},{"t":2025.723,"v":3880},{"t":2025.758,"v":4220},{"t":2025.777,"v":4290},{"t":2025.817,"v":4420},{"t":2025.836,"v":4620},{"t":2025.857,"v":4490},{"t":2025.957,"v":4350},{"t":2025.973,"v":3980},{"t":2025.992,"v":3880},{"t":2026.011,"v":3820},{"t":2026.051,"v":3950},{"t":2026.073,"v":3850},{"t":2026.091,"v":3750},{"t":2026.113,"v":3680},{"t":2026.132,"v":3520},{"t":2026.148,"v":3620},{"t":2026.167,"v":3850},{"t":2026.188,"v":4020},{"t":2026.247,"v":4110},{"t":2026.266,"v":4350},{"t":2026.282,"v":4150},{"t":2026.301,"v":4090},{"t":2026.323,"v":3850},{"t":2026.339,"v":4290},{"t":2026.363,"v":4020},{"t":2026.441,"v":3820},{"t":2026.462,"v":4090},{"t":2026.481,"v":4350},{"t":2026.497,"v":4690},{"t":2026.516,"v":4290},{"t":2026.556,"v":4420},{"t":2026.570,"v":4620},{"t":2026.589,"v":4769.0}],
    "shorts": [{"t":2019.005,"v":8890},{"t":2019.019,"v":9630},{"t":2019.040,"v":10120},{"t":2019.059,"v":10890},{"t":2019.113,"v":10990},{"t":2019.135,"v":11000},{"t":2019.148,"v":10560},{"t":2019.161,"v":10920},{"t":2019.183,"v":10630},{"t":2019.196,"v":9000},{"t":2019.215,"v":7360},{"t":2019.234,"v":7000},{"t":2019.248,"v":7960},{"t":2019.269,"v":9020},{"t":2019.291,"v":9360},{"t":2019.312,"v":9760},{"t":2019.331,"v":10290},{"t":2019.350,"v":10090},{"t":2019.369,"v":9050},{"t":2019.390,"v":8730},{"t":2019.412,"v":8560},{"t":2019.430,"v":8250},{"t":2019.452,"v":7960},{"t":2019.471,"v":7890},{"t":2019.490,"v":8490},{"t":2019.525,"v":8660},{"t":2019.578,"v":9130},{"t":2019.597,"v":9360},{"t":2019.613,"v":9830},{"t":2019.632,"v":9630},{"t":2019.651,"v":8650},{"t":2019.673,"v":8090},{"t":2019.699,"v":7960},{"t":2019.721,"v":8420},{"t":2019.740,"v":8760},{"t":2019.759,"v":8560},{"t":2019.775,"v":8400},{"t":2019.794,"v":7980},{"t":2019.812,"v":8890},{"t":2019.834,"v":9270},{"t":2019.861,"v":9160},{"t":2019.882,"v":9050},{"t":2019.901,"v":9560},{"t":2019.920,"v":10390},{"t":2019.942,"v":10250},{"t":2019.963,"v":8400},{"t":2020.009,"v":8730},{"t":2020.022,"v":9630},{"t":2020.041,"v":9760},{"t":2020.057,"v":10290},{"t":2020.076,"v":10470},{"t":2020.092,"v":9890},{"t":2020.116,"v":9470},{"t":2020.135,"v":9320},{"t":2020.157,"v":9670},{"t":2020.197,"v":8160},{"t":2020.211,"v":5580},{"t":2020.229,"v":2680},{"t":2020.246,"v":1680},{"t":2020.264,"v":1550},{"t":2020.283,"v":2020},{"t":2020.305,"v":2280},{"t":2020.324,"v":2080},{"t":2020.345,"v":1910},{"t":2020.364,"v":2040},{"t":2020.385,"v":2110},{"t":2020.412,"v":2150},{"t":2020.461,"v":2020},{"t":2020.480,"v":1710},{"t":2020.501,"v":1580},{"t":2020.523,"v":1680},{"t":2020.542,"v":1550},{"t":2020.560,"v":1480},{"t":2020.579,"v":1620},{"t":2020.595,"v":1350},{"t":2020.614,"v":1420},{"t":2020.636,"v":1150},{"t":2020.655,"v":1280},{"t":2020.673,"v":1310},{"t":2020.695,"v":1440},{"t":2020.714,"v":1580},{"t":2020.727,"v":3550},{"t":2020.749,"v":3620},{"t":2020.768,"v":3350},{"t":2020.786,"v":3020},{"t":2020.803,"v":3480},{"t":2020.821,"v":3420},{"t":2020.843,"v":3220},{"t":2020.862,"v":2950},{"t":2020.883,"v":1620},{"t":2020.902,"v":1150},{"t":2020.918,"v":1010},{"t":2020.937,"v":1310},{"t":2020.959,"v":1170},{"t":2020.977,"v":910},{"t":2020.996,"v":850},{"t":2021.018,"v":920},{"t":2021.037,"v":850},{"t":2021.058,"v":950},{"t":2021.072,"v":1950},{"t":2021.093,"v":2390},{"t":2021.112,"v":2240},{"t":2021.131,"v":2640},{"t":2021.152,"v":2720},{"t":2021.171,"v":3020},{"t":2021.187,"v":2620},{"t":2021.206,"v":2480},{"t":2021.225,"v":2820},{"t":2021.241,"v":3220},{"t":2021.260,"v":3280},{"t":2021.279,"v":3420},{"t":2021.295,"v":3710},{"t":2021.308,"v":3180},{"t":2021.322,"v":4220},{"t":2021.341,"v":4350},{"t":2021.354,"v":3820},{"t":2021.376,"v":3710},{"t":2021.394,"v":3280},{"t":2021.410,"v":3220},{"t":2021.421,"v":2080},{"t":2021.440,"v":1620},{"t":2021.462,"v":1660},{"t":2021.480,"v":1550},{"t":2021.502,"v":1620},{"t":2021.521,"v":1350},{"t":2021.542,"v":1080},{"t":2021.561,"v":880},{"t":2021.583,"v":810},{"t":2021.602,"v":680},{"t":2021.623,"v":550},{"t":2021.650,"v":610},{"t":2021.677,"v":640},{"t":2021.704,"v":610},{"t":2021.725,"v":720},{"t":2021.744,"v":880},{"t":2021.763,"v":1010},{"t":2021.779,"v":2150},{"t":2021.798,"v":2220},{"t":2021.817,"v":2680},{"t":2021.838,"v":3150},{"t":2021.857,"v":2750},{"t":2021.879,"v":2680},{"t":2021.900,"v":2620},{"t":2021.919,"v":3020},{"t":2021.940,"v":2990},{"t":2021.959,"v":2620},{"t":2021.978,"v":1880},{"t":2021.994,"v":1480},{"t":2022.013,"v":1210},{"t":2022.054,"v":1480},{"t":2022.073,"v":1440},{"t":2022.094,"v":1350},{"t":2022.113,"v":1080},{"t":2022.129,"v":750},{"t":2022.148,"v":810},{"t":2022.169,"v":750},{"t":2022.188,"v":950},{"t":2022.207,"v":1080},{"t":2022.228,"v":1150},{"t":2022.247,"v":1280},{"t":2022.300,"v":1300},{"t":2022.400,"v":1450},{"t":2022.450,"v":1600},{"t":2022.520,"v":1400},{"t":2022.600,"v":1200},{"t":2022.700,"v":1350},{"t":2022.800,"v":1250},{"t":2022.900,"v":1300},{"t":2023.000,"v":1250},{"t":2023.100,"v":1350},{"t":2023.160,"v":1400},{"t":2023.223,"v":1550},{"t":2023.255,"v":1680},{"t":2023.277,"v":1820},{"t":2023.298,"v":1880},{"t":2023.323,"v":1840},{"t":2023.344,"v":1950},{"t":2023.371,"v":1880},{"t":2023.390,"v":2110},{"t":2023.411,"v":2020},{"t":2023.433,"v":1820},{"t":2023.452,"v":1840},{"t":2023.470,"v":1950},{"t":2023.492,"v":1820},{"t":2023.513,"v":2110},{"t":2023.532,"v":2420},{"t":2023.551,"v":2460},{"t":2023.573,"v":2510},{"t":2023.591,"v":2580},{"t":2023.613,"v":2420},{"t":2023.626,"v":1880},{"t":2023.648,"v":2020},{"t":2023.667,"v":2060},{"t":2023.688,"v":2110},{"t":2023.707,"v":2080},{"t":2023.728,"v":2020},{"t":2023.747,"v":1820},{"t":2023.766,"v":1680},{"t":2023.788,"v":1750},{"t":2023.809,"v":1820},{"t":2023.828,"v":1420},{"t":2023.847,"v":1750},{"t":2023.890,"v":1950},{"t":2023.909,"v":1880},{"t":2023.927,"v":1980},{"t":2023.949,"v":1950},{"t":2023.968,"v":2280},{"t":2024.008,"v":2350},{"t":2024.030,"v":2280},{"t":2024.043,"v":2510},{"t":2024.062,"v":2420},{"t":2024.083,"v":2060},{"t":2024.102,"v":2460},{"t":2024.118,"v":1950},{"t":2024.137,"v":2110},{"t":2024.159,"v":2220},{"t":2024.177,"v":2420},{"t":2024.191,"v":2710},{"t":2024.258,"v":2660},{"t":2024.285,"v":2680},{"t":2024.298,"v":2240},{"t":2024.320,"v":2150},{"t":2024.339,"v":2060},{"t":2024.357,"v":1820},{"t":2024.379,"v":1880},{"t":2024.400,"v":2060},{"t":2024.414,"v":1880},{"t":2024.427,"v":1440},{"t":2024.446,"v":1550},{"t":2024.465,"v":1710},{"t":2024.486,"v":1910},{"t":2024.513,"v":1950},{"t":2024.535,"v":2060},{"t":2024.554,"v":2150},{"t":2024.572,"v":2020},{"t":2024.621,"v":2280},{"t":2024.648,"v":2240},{"t":2024.675,"v":2280},{"t":2024.702,"v":2220},{"t":2024.728,"v":2190},{"t":2024.755,"v":2080},{"t":2024.777,"v":1910},{"t":2024.796,"v":2240},{"t":2024.836,"v":2080},{"t":2024.863,"v":2020},{"t":2024.884,"v":2080},{"t":2024.903,"v":2150},{"t":2024.930,"v":2190},{"t":2024.952,"v":2080},{"t":2024.970,"v":2150},{"t":2024.989,"v":1880},{"t":2025.011,"v":1680},{"t":2025.032,"v":1550},{"t":2025.051,"v":1440},{"t":2025.070,"v":1280},{"t":2025.083,"v":1150},{"t":2025.099,"v":850},{"t":2025.118,"v":1150},{"t":2025.137,"v":1680},{"t":2025.159,"v":1750},{"t":2025.180,"v":1790},{"t":2025.199,"v":1950},{"t":2025.220,"v":2040},{"t":2025.234,"v":1550},{"t":2025.253,"v":1950},{"t":2025.266,"v":1280},{"t":2025.287,"v":1010},{"t":2025.306,"v":1150},{"t":2025.325,"v":1280},{"t":2025.347,"v":1820},{"t":2025.365,"v":1840},{"t":2025.382,"v":1680},{"t":2025.400,"v":1440},{"t":2025.414,"v":1040},{"t":2025.433,"v":1120},{"t":2025.454,"v":1350},{"t":2025.470,"v":2150},{"t":2025.489,"v":2280},{"t":2025.508,"v":2240},{"t":2025.521,"v":1680},{"t":2025.535,"v":840},{"t":2025.554,"v":770},{"t":2025.575,"v":550},{"t":2025.589,"v":480},{"t":2025.602,"v":840},{"t":2025.621,"v":1080},{"t":2025.642,"v":880},{"t":2025.661,"v":950},{"t":2025.683,"v":1150},{"t":2025.701,"v":1080},{"t":2025.723,"v":950},{"t":2025.742,"v":1170},{"t":2025.755,"v":1680},{"t":2025.771,"v":2480},{"t":2025.790,"v":3220},{"t":2025.809,"v":3980},{"t":2025.825,"v":4290},{"t":2025.844,"v":4490},{"t":2025.863,"v":4950},{"t":2025.879,"v":5690},{"t":2025.898,"v":5820},{"t":2025.917,"v":6220},{"t":2025.933,"v":6290},{"t":2025.952,"v":6420},{"t":2025.965,"v":4890},{"t":2025.984,"v":4550},{"t":2026.000,"v":3350},{"t":2026.019,"v":3480},{"t":2026.038,"v":3350},{"t":2026.054,"v":2820},{"t":2026.073,"v":2080},{"t":2026.091,"v":2640},{"t":2026.113,"v":2620},{"t":2026.132,"v":2420},{"t":2026.153,"v":2350},{"t":2026.175,"v":2280},{"t":2026.194,"v":2020},{"t":2026.207,"v":1920},{"t":2026.226,"v":2080},{"t":2026.242,"v":1680},{"t":2026.261,"v":1150},{"t":2026.280,"v":990},{"t":2026.296,"v":1210},{"t":2026.309,"v":2060},{"t":2026.328,"v":1950},{"t":2026.347,"v":1880},{"t":2026.363,"v":2420},{"t":2026.400,"v":2480},{"t":2026.417,"v":2620},{"t":2026.435,"v":2420},{"t":2026.454,"v":2480},{"t":2026.468,"v":3180},{"t":2026.489,"v":3220},{"t":2026.508,"v":3040},{"t":2026.524,"v":3350},{"t":2026.537,"v":4020},{"t":2026.559,"v":4290},{"t":2026.570,"v":4220},{"t":2026.589,"v":3684.0}]
  },
  "spacing": 40,
  "resolve": {"scale": {"x": "independent", "y": "independent", "color": "independent", "strokeDash": "independent"}},
  "vconcat": [
    {
      "title": {"text": "Orange Juice price and speculative positioning", "offset": -11},
      "width": 3245,
      "height": 882,
      "layer": [
        {
          "layer": [
            {
              "data": {"name": "price"},
              "transform": [{"calculate": "'Orange Juice'", "as": "series"}],
              "mark": {"type": "line", "strokeWidth": 4},
              "encoding": {
                "x": {"field": "t", "type": "quantitative", "scale": {"domain": [2019, 2026.608], "nice": false, "zero": false}, "axis": {"values": [2019, 2020, 2021, 2022, 2023, 2024, 2025, 2026], "labels": false}},
                "y": {"field": "v", "type": "quantitative", "scale": {"domain": [46.5, 601], "nice": false, "zero": false}, "axis": {"values": [100, 200, 300, 400, 500, 600], "labelPadding": 17}},
                "color": {"field": "series", "type": "nominal", "title": null, "scale": {"domain": ["Orange Juice", "Net positioning"], "range": ["#4169e1", "#7b0d37"]}, "legend": {"legendX": 1272, "legendY": 810}},
                "strokeDash": {"field": "series", "type": "nominal", "title": null, "scale": {"domain": ["Orange Juice", "Net positioning"], "range": [[1, 0], [4.5, 8]]}, "legend": {"legendX": 1272, "legendY": 810}}
              }
            },
            {
              "data": {"name": "price"},
              "transform": [{"joinaggregate": [{"op": "max", "field": "t", "as": "tm"}]}, {"filter": "datum.t === datum.tm"}],
              "mark": {"type": "point", "filled": true, "size": 420, "opacity": 1, "color": "#4169e1"},
              "encoding": {"x": {"field": "t", "type": "quantitative"}, "y": {"field": "v", "type": "quantitative"}}
            },
            {
              "data": {"name": "price"},
              "transform": [{"joinaggregate": [{"op": "max", "field": "t", "as": "tm"}]}, {"filter": "datum.t === datum.tm"}],
              "mark": {"type": "point", "filled": true, "opacity": 1, "color": "#e5e5e5", "size": 11664, "xOffset": 98, "shape": "M-0.852,-0.528H0.852Q1,-0.528 1,-0.38V0.38Q1,0.528 0.852,0.528H-0.852Q-1,0.528 -1,0.38V-0.38Q-1,-0.528 -0.852,-0.528Z"},
              "encoding": {"x": {"field": "t", "type": "quantitative"}, "y": {"field": "v", "type": "quantitative"}}
            },
            {
              "data": {"name": "price"},
              "transform": [{"joinaggregate": [{"op": "max", "field": "t", "as": "tm"}]}, {"filter": "datum.t === datum.tm"}, {"calculate": "replace(format(datum.v, '.1f'), '\u2212', '-')", "as": "lbl"}],
              "mark": {"type": "text", "align": "right", "baseline": "middle", "dx": 139, "fontSize": 32, "color": "#000000"},
              "encoding": {"x": {"field": "t", "type": "quantitative"}, "y": {"field": "v", "type": "quantitative"}, "text": {"field": "lbl"}}
            },
            {
              "data": {"values": [{}]},
              "mark": {"type": "point", "shape": "square", "filled": true, "opacity": 1, "size": 8100, "color": "#ff3338"},
              "encoding": {"x": {"datum": 2026.041}, "y": {"datum": 626}}
            },
            {
              "data": {"values": [{}]},
              "mark": {"type": "point", "filled": true, "opacity": 1, "size": 8100, "color": "#ffffff", "shape": "M-0.79,-0.22L-0.15,-0.33L0.27,-0.44L0.79,-0.51L0.34,-0.03L0.88,0.52L0.38,0.42L0.04,0.17L-0.27,0.34L-0.85,0.21L-0.31,-0.03Z"},
              "encoding": {"x": {"datum": 2026.041}, "y": {"datum": 626}}
            },
            {
              "data": {"values": [{}]},
              "mark": {"type": "text", "text": "xtb", "font": "Inter", "fontWeight": 600, "fontSize": 80, "color": "#333333", "align": "left", "baseline": "alphabetic"},
              "encoding": {"x": {"datum": 2026.187}, "y": {"datum": 611}}
            }
          ]
        },
        {
          "layer": [
            {
              "data": {"name": "net"},
              "transform": [{"calculate": "'Net positioning'", "as": "series"}],
              "mark": {"type": "line", "strokeWidth": 5, "interpolate": "step-after"},
              "encoding": {
                "x": {"field": "t", "type": "quantitative"},
                "y": {"field": "v", "type": "quantitative", "scale": {"domain": [-9400, 7930], "nice": false, "zero": false}, "axis": {"orient": "right", "domain": false, "values": [-8000, -6000, -4000, -2000, 0, 2000, 4000, 6000], "format": ",d", "labelExpr": "replace(datum.label, '\u2212', '-')", "labelPadding": 15}},
                "color": {"field": "series", "type": "nominal", "title": null},
                "strokeDash": {"field": "series", "type": "nominal", "title": null}
              }
            },
            {
              "data": {"name": "net"},
              "transform": [{"joinaggregate": [{"op": "max", "field": "t", "as": "tm"}]}, {"filter": "datum.t === datum.tm"}],
              "mark": {"type": "point", "filled": true, "size": 420, "opacity": 1, "color": "#7b0d37"},
              "encoding": {"x": {"field": "t", "type": "quantitative"}, "y": {"field": "v", "type": "quantitative"}}
            },
            {
              "data": {"name": "net"},
              "transform": [{"joinaggregate": [{"op": "max", "field": "t", "as": "tm"}]}, {"filter": "datum.t === datum.tm"}],
              "mark": {"type": "point", "filled": true, "opacity": 1, "color": "#e5e5e5", "size": 15625, "xOffset": 96, "shape": "M-0.872,-0.456H0.872Q1,-0.456 1,-0.328V0.328Q1,0.456 0.872,0.456H-0.872Q-1,0.456 -1,0.328V-0.328Q-1,-0.456 -0.872,-0.456Z"},
              "encoding": {"x": {"field": "t", "type": "quantitative"}, "y": {"field": "v", "type": "quantitative"}}
            },
            {
              "data": {"name": "net"},
              "transform": [{"joinaggregate": [{"op": "max", "field": "t", "as": "tm"}]}, {"filter": "datum.t === datum.tm"}, {"calculate": "replace(format(datum.v, '.1f'), '\u2212', '-')", "as": "lbl"}],
              "mark": {"type": "text", "align": "right", "baseline": "middle", "dx": 146, "fontSize": 32, "color": "#000000"},
              "encoding": {"x": {"field": "t", "type": "quantitative"}, "y": {"field": "v", "type": "quantitative"}, "text": {"field": "lbl"}}
            }
          ]
        }
      ],
      "resolve": {"scale": {"y": "independent"}}
    },
    {
      "title": "Orange Juice net positoning with overbought and oversold areas",
      "width": 3245,
      "height": 443,
      "encoding": {
        "x": {"field": "t", "type": "quantitative", "scale": {"domain": [2019, 2026.608], "nice": false, "zero": false}, "axis": {"values": [2019, 2020, 2021, 2022, 2023, 2024, 2025, 2026], "labels": false}},
        "y": {"field": "v", "type": "quantitative", "scale": {"domain": [-11435, 9761], "nice": false, "zero": false}, "axis": {"values": [-10000, -5000, 0, 5000], "format": ",d", "labelExpr": "replace(datum.label, '\u2212', '-')", "labelPadding": 17}}
      },
      "layer": [
        {
          "data": {"name": "net"},
          "transform": [{"calculate": "'Net positioning'", "as": "series"}],
          "mark": {"type": "line", "strokeWidth": 5, "interpolate": "step-after"},
          "encoding": {
            "color": {"field": "series", "type": "nominal", "title": null, "scale": {"domain": ["Net positioning", "Long-term average", "Max", "Min"], "range": ["#7b0d37", "#000000", "#808080", "#808080"]}, "legend": {"legendX": 1013, "legendY": 366}},
            "strokeDash": {"field": "series", "type": "nominal", "title": null, "scale": {"domain": ["Net positioning", "Long-term average", "Max", "Min"], "range": [[1, 0], [4, 4], [4.5, 6], [4.5, 6]]}, "legend": {"legendX": 1013, "legendY": 366}}
          }
        },
        {
          "data": {"name": "avg"},
          "transform": [{"calculate": "'Long-term average'", "as": "series"}],
          "mark": {"type": "line", "strokeWidth": 4.5},
          "encoding": {"color": {"field": "series", "type": "nominal", "title": null}, "strokeDash": {"field": "series", "type": "nominal", "title": null}}
        },
        {
          "data": {"name": "max"},
          "transform": [{"calculate": "'Max'", "as": "series"}],
          "mark": {"type": "line", "strokeWidth": 4.5, "interpolate": "monotone"},
          "encoding": {"color": {"field": "series", "type": "nominal", "title": null}, "strokeDash": {"field": "series", "type": "nominal", "title": null}}
        },
        {
          "data": {"name": "min"},
          "transform": [{"calculate": "'Min'", "as": "series"}],
          "mark": {"type": "line", "strokeWidth": 4.5, "interpolate": "monotone"},
          "encoding": {"color": {"field": "series", "type": "nominal", "title": null}, "strokeDash": {"field": "series", "type": "nominal", "title": null}}
        },
        {
          "data": {"name": "net"},
          "transform": [{"joinaggregate": [{"op": "max", "field": "t", "as": "tm"}]}, {"filter": "datum.t === datum.tm"}],
          "mark": {"type": "point", "filled": true, "size": 420, "opacity": 1, "color": "#7b0d37"}
        },
        {
          "data": {"name": "net"},
          "transform": [{"joinaggregate": [{"op": "max", "field": "t", "as": "tm"}]}, {"filter": "datum.t === datum.tm"}],
          "mark": {"type": "point", "filled": true, "opacity": 1, "color": "#e5e5e5", "size": 15625, "xOffset": 96, "shape": "M-0.872,-0.456H0.872Q1,-0.456 1,-0.328V0.328Q1,0.456 0.872,0.456H-0.872Q-1,0.456 -1,0.328V-0.328Q-1,-0.456 -0.872,-0.456Z"}
        },
        {
          "data": {"name": "net"},
          "transform": [{"joinaggregate": [{"op": "max", "field": "t", "as": "tm"}]}, {"filter": "datum.t === datum.tm"}, {"calculate": "replace(format(datum.v, '.1f'), '\u2212', '-')", "as": "lbl"}],
          "mark": {"type": "text", "align": "right", "baseline": "middle", "dx": 146, "fontSize": 32, "color": "#000000"},
          "encoding": {"text": {"field": "lbl"}}
        },
        {
          "data": {"name": "max"},
          "transform": [{"joinaggregate": [{"op": "max", "field": "t", "as": "tm"}]}, {"filter": "datum.t === datum.tm"}],
          "mark": {"type": "point", "filled": true, "size": 420, "opacity": 1, "color": "#808080"}
        },
        {
          "data": {"name": "max"},
          "transform": [{"joinaggregate": [{"op": "max", "field": "t", "as": "tm"}]}, {"filter": "datum.t === datum.tm"}],
          "mark": {"type": "point", "filled": true, "opacity": 1, "color": "#e5e5e5", "size": 15625, "xOffset": 96, "shape": "M-0.872,-0.456H0.872Q1,-0.456 1,-0.328V0.328Q1,0.456 0.872,0.456H-0.872Q-1,0.456 -1,0.328V-0.328Q-1,-0.456 -0.872,-0.456Z"}
        },
        {
          "data": {"name": "max"},
          "transform": [{"joinaggregate": [{"op": "max", "field": "t", "as": "tm"}]}, {"filter": "datum.t === datum.tm"}, {"calculate": "replace(format(datum.v, '.1f'), '\u2212', '-')", "as": "lbl"}],
          "mark": {"type": "text", "align": "right", "baseline": "middle", "dx": 146, "fontSize": 32, "color": "#000000"},
          "encoding": {"text": {"field": "lbl"}}
        },
        {
          "data": {"name": "min"},
          "transform": [{"joinaggregate": [{"op": "max", "field": "t", "as": "tm"}]}, {"filter": "datum.t === datum.tm"}],
          "mark": {"type": "point", "filled": true, "size": 420, "opacity": 1, "color": "#808080"}
        },
        {
          "data": {"name": "min"},
          "transform": [{"joinaggregate": [{"op": "max", "field": "t", "as": "tm"}]}, {"filter": "datum.t === datum.tm"}],
          "mark": {"type": "point", "filled": true, "opacity": 1, "color": "#e5e5e5", "size": 15625, "xOffset": 96, "shape": "M-0.872,-0.456H0.872Q1,-0.456 1,-0.328V0.328Q1,0.456 0.872,0.456H-0.872Q-1,0.456 -1,0.328V-0.328Q-1,-0.456 -0.872,-0.456Z"}
        },
        {
          "data": {"name": "min"},
          "transform": [{"joinaggregate": [{"op": "max", "field": "t", "as": "tm"}]}, {"filter": "datum.t === datum.tm"}, {"calculate": "replace(format(datum.v, '.1f'), '\u2212', '-')", "as": "lbl"}],
          "mark": {"type": "text", "align": "right", "baseline": "middle", "dx": 146, "fontSize": 32, "color": "#000000"},
          "encoding": {"text": {"field": "lbl"}}
        }
      ]
    },
    {
      "title": "Orange Juice long and short speculative positions",
      "width": 3245,
      "height": 443,
      "encoding": {
        "x": {"field": "t", "type": "quantitative", "scale": {"domain": [2019, 2026.608], "nice": false, "zero": false}, "axis": {"values": [2019, 2020, 2021, 2022, 2023, 2024, 2025, 2026], "format": "d", "labelPadding": 10, "title": "Source: XTB Research", "titleAnchor": "end", "titleAlign": "right", "titleFontSize": 31, "titleFontWeight": "bold", "titleColor": "#000000", "titlePadding": 18}},
        "y": {"field": "v", "type": "quantitative", "scale": {"domain": [-570, 12051], "nice": false, "zero": false}, "axis": {"values": [0, 2500, 5000, 7500, 10000], "format": ",d", "labelPadding": 17}}
      },
      "layer": [
        {
          "data": {"name": "longs"},
          "transform": [{"calculate": "'Longs'", "as": "series"}],
          "mark": {"type": "line", "strokeWidth": 4.5, "interpolate": "step-after"},
          "encoding": {"color": {"field": "series", "type": "nominal", "title": null, "scale": {"domain": ["Longs", "Shorts"], "range": ["#4cc774", "#f7534a"]}, "legend": {"legendX": 1389, "legendY": 366}}}
        },
        {
          "data": {"name": "shorts"},
          "transform": [{"calculate": "'Shorts'", "as": "series"}],
          "mark": {"type": "line", "strokeWidth": 4.5, "interpolate": "step-after"},
          "encoding": {"color": {"field": "series", "type": "nominal", "title": null}}
        },
        {
          "data": {"name": "longs"},
          "transform": [{"joinaggregate": [{"op": "max", "field": "t", "as": "tm"}]}, {"filter": "datum.t === datum.tm"}],
          "mark": {"type": "point", "filled": true, "size": 420, "opacity": 1, "color": "#4cc774"}
        },
        {
          "data": {"name": "shorts"},
          "transform": [{"joinaggregate": [{"op": "max", "field": "t", "as": "tm"}]}, {"filter": "datum.t === datum.tm"}],
          "mark": {"type": "point", "filled": true, "size": 420, "opacity": 1, "color": "#f7534a"}
        },
        {
          "data": {"name": "longs"},
          "transform": [{"joinaggregate": [{"op": "max", "field": "t", "as": "tm"}]}, {"filter": "datum.t === datum.tm"}],
          "mark": {"type": "point", "filled": true, "opacity": 1, "color": "#e5e5e5", "size": 15625, "xOffset": 96, "shape": "M-0.872,-0.456H0.872Q1,-0.456 1,-0.328V0.328Q1,0.456 0.872,0.456H-0.872Q-1,0.456 -1,0.328V-0.328Q-1,-0.456 -0.872,-0.456Z"}
        },
        {
          "data": {"name": "shorts"},
          "transform": [{"joinaggregate": [{"op": "max", "field": "t", "as": "tm"}]}, {"filter": "datum.t === datum.tm"}],
          "mark": {"type": "point", "filled": true, "opacity": 1, "color": "#e5e5e5", "size": 15625, "xOffset": 96, "shape": "M-0.872,-0.456H0.872Q1,-0.456 1,-0.328V0.328Q1,0.456 0.872,0.456H-0.872Q-1,0.456 -1,0.328V-0.328Q-1,-0.456 -0.872,-0.456Z"}
        },
        {
          "data": {"name": "longs"},
          "transform": [{"joinaggregate": [{"op": "max", "field": "t", "as": "tm"}]}, {"filter": "datum.t === datum.tm"}, {"calculate": "format(datum.v, '.1f')", "as": "lbl"}],
          "mark": {"type": "text", "align": "right", "baseline": "middle", "dx": 146, "fontSize": 32, "color": "#000000"},
          "encoding": {"text": {"field": "lbl"}}
        },
        {
          "data": {"name": "shorts"},
          "transform": [{"joinaggregate": [{"op": "max", "field": "t", "as": "tm"}]}, {"filter": "datum.t === datum.tm"}, {"calculate": "format(datum.v, '.1f')", "as": "lbl"}],
          "mark": {"type": "text", "align": "right", "baseline": "middle", "dx": 146, "fontSize": 32, "color": "#000000"},
          "encoding": {"text": {"field": "lbl"}}
        }
      ]
    }
  ]
}
